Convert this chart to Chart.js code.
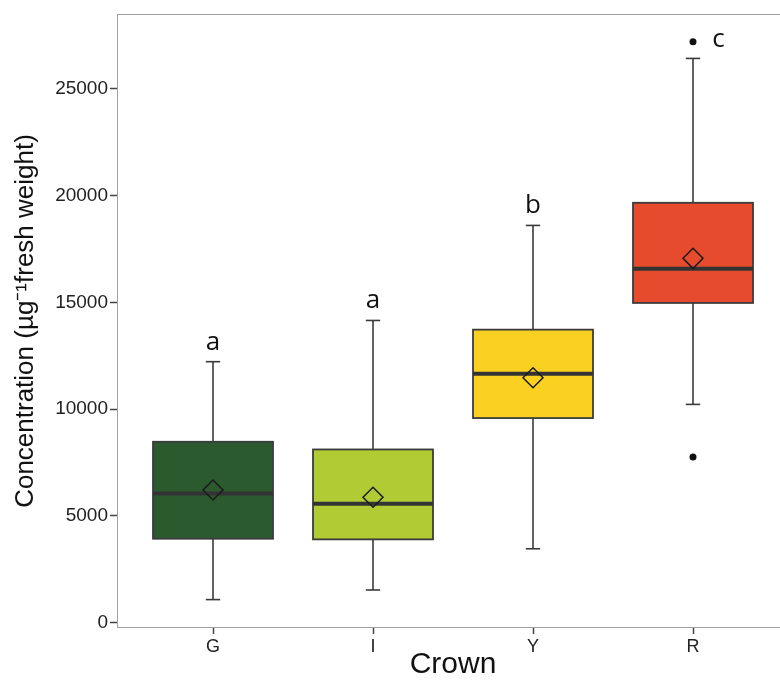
<!DOCTYPE html>
<html><head><meta charset="utf-8">
<script src="https://cdn.jsdelivr.net/npm/chart.js@4/dist/chart.umd.min.js"></script>
<style>html,body{margin:0;padding:0;background:#fff;overflow:hidden}#wrap{width:780px;height:680px;position:relative;overflow:hidden}</style>
</head><body><div id="wrap"><canvas id="c" width="792" height="680"></canvas></div>
<script>
const categories=['G','I','Y','R'];
const whiskerLow=[1080,1530,3460,10220];
const q1=[3930,3900,9580,14970];
const median=[6050,5570,11660,16570];
const q3=[8470,8110,13720,19660];
const whiskerHigh=[12220,14150,18600,26420];
const means=[6210,5870,11470,17060];
const outlierCat=[4,4];
const outlierVal=[27200,7760];
const boxColors=['#2c5a2f','#b1cb35','#fbd121','#e74b2d'];
const sigLetters=['a','a','b','c'];
const sigLetterX=[1,2,3,4.16];
const sigLetterY=[13100,15080,19520,27290];
const yTicks=[0,5000,10000,15000,20000,25000];

function seg(ctx,x1,y1,x2,y2){ctx.beginPath();ctx.moveTo(x1,y1);ctx.lineTo(x2,y2);ctx.stroke();}

const boxPlugin={id:'boxes',
 beforeDatasetsDraw(chart){
  const {ctx,chartArea:a,scales:{x,y}}=chart;
  ctx.save();
  ctx.strokeStyle='#a0a0a0';ctx.lineWidth=1;
  ctx.strokeRect(a.left+0.5,a.top+0.5,a.right-a.left-1,a.bottom-a.top-1);
  const bw=0.75,cw=0.09;
  categories.forEach((c,i)=>{
   const k=i+1;
   const cx=x.getPixelForValue(k);
   const l=x.getPixelForValue(k-bw/2),r=x.getPixelForValue(k+bw/2);
   const cl=x.getPixelForValue(k-cw/2),cr=x.getPixelForValue(k+cw/2);
   const yLo=y.getPixelForValue(whiskerLow[i]),yHi=y.getPixelForValue(whiskerHigh[i]);
   const yQ1=y.getPixelForValue(q1[i]),yQ3=y.getPixelForValue(q3[i]),yMed=y.getPixelForValue(median[i]);
   ctx.strokeStyle='#3a3a3a';ctx.lineWidth=1.6;
   seg(ctx,cx,yLo,cx,yQ1);seg(ctx,cx,yQ3,cx,yHi);
   seg(ctx,cl,yLo,cr,yLo);seg(ctx,cl,yHi,cr,yHi);
   ctx.fillStyle=boxColors[i];ctx.fillRect(l,yQ3,r-l,yQ1-yQ3);
   ctx.lineWidth=1.8;ctx.strokeStyle='#3c3c3c';ctx.strokeRect(l,yQ3,r-l,yQ1-yQ3);
   ctx.lineWidth=4;ctx.strokeStyle='#333';seg(ctx,l,yMed,r,yMed);
  });
  ctx.restore();
 },
 afterDatasetsDraw(chart){
  const {ctx,scales:{x,y}}=chart;
  ctx.save();
  ctx.fillStyle='#111';ctx.font='26px "Open Sans"';ctx.textAlign='center';ctx.textBaseline='middle';
  sigLetters.forEach((t,i)=>ctx.fillText(t,x.getPixelForValue(sigLetterX[i]),y.getPixelForValue(sigLetterY[i])));
  ctx.restore();
 }
};

new Chart(document.getElementById('c'),{
 type:'scatter',
 data:{datasets:[
  {label:'mean',data:categories.map((c,i)=>({x:i+1,y:means[i]})),pointStyle:'rectRot',radius:10,borderColor:'#1a1a1a',borderWidth:1.5,backgroundColor:'rgba(0,0,0,0)'},
  {label:'outliers',data:outlierCat.map((c,i)=>({x:c,y:outlierVal[i]})),pointStyle:'circle',radius:3.5,borderWidth:0,backgroundColor:'#111'}
 ]},
 options:{
  responsive:false,animation:false,
  layout:{autoPadding:false,padding:{left:8,top:14,right:3,bottom:0}},
  plugins:{legend:{display:false},tooltip:{enabled:false}},
  scales:{
   x:{type:'linear',min:0.4,max:4.6,
    afterBuildTicks:s=>{s.ticks=categories.map((c,i)=>({value:i+1}));},
    afterFit:s=>{s.height=52;},
    ticks:{callback:v=>categories[v-1]||'',font:{family:'"Liberation Sans", Arial',size:18},color:'#222',padding:2,maxRotation:0},
    grid:{drawOnChartArea:false,drawTicks:true,tickLength:6,tickColor:'#444',tickWidth:1.5},
    border:{display:false},
    title:{display:true,text:'Crown',font:{family:'"Liberation Sans", Arial',size:30,lineHeight:1},color:'#111',padding:{top:0,bottom:0}}
   },
   y:{type:'linear',min:-250,max:28500,
    afterBuildTicks:s=>{s.ticks=yTicks.map(v=>({value:v}));},
    afterFit:s=>{s.width=109;},
    ticks:{callback:v=>String(v),font:{family:'"Liberation Sans", Arial',size:19},color:'#222',padding:2},
    grid:{drawOnChartArea:false,drawTicks:true,tickLength:7,tickColor:'#444',tickWidth:1.5},
    border:{display:false},
    title:{display:true,text:'Concentration (µg⁻¹fresh weight)',font:{family:'"Liberation Sans", Arial',size:26,lineHeight:1},color:'#111',padding:{top:5,bottom:0}}
   }
  }
 },
 plugins:[boxPlugin]
});
</script></body></html>
